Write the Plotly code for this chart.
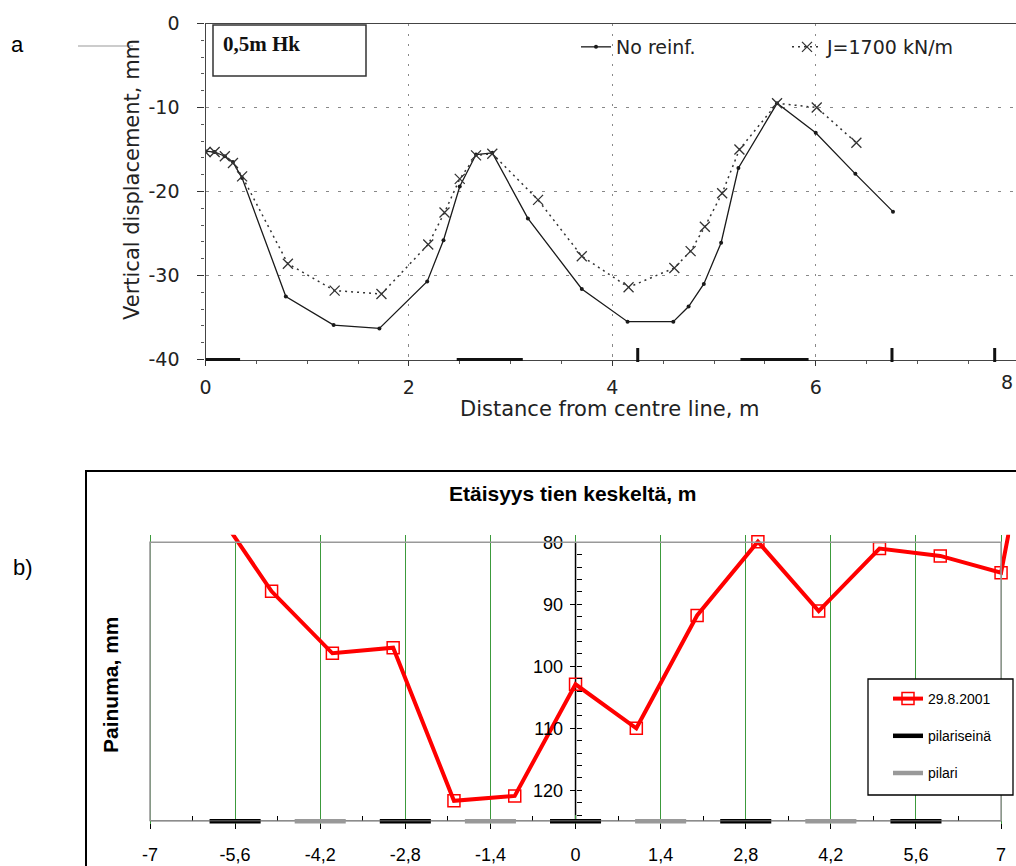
import plotly.graph_objects as go

W, H = 1016, 866

# ---------------- Panel a data ----------------
a_x_noreinf = [0.0, 0.09, 0.19, 0.27, 0.36, 0.79, 1.26, 1.71, 2.18, 2.34, 2.50, 2.66, 2.82,
               3.17, 3.70, 4.15, 4.60, 4.75, 4.90, 5.07, 5.24, 5.62, 6.00, 6.39, 6.76]
a_y_noreinf = [-15.2, -15.3, -15.8, -16.5, -18.4, -32.5, -35.9, -36.3, -30.7, -25.8, -19.4, -15.6, -15.4,
               -23.2, -31.6, -35.5, -35.5, -33.7, -31.0, -26.1, -17.2, -9.5, -13.0, -17.9, -22.4]
a_x_j1700 = [0.0, 0.09, 0.19, 0.27, 0.36, 0.81, 1.27, 1.73, 2.19, 2.35, 2.50, 2.66, 2.82,
             3.27, 3.70, 4.16, 4.61, 4.77, 4.91, 5.08, 5.25, 5.62, 6.01, 6.40]
a_y_j1700 = [-15.3, -15.3, -15.8, -16.6, -18.2, -28.6, -31.8, -32.2, -26.3, -22.5, -18.5, -15.7, -15.5,
             -21.0, -27.7, -31.4, -29.1, -27.1, -24.2, -20.2, -15.0, -9.5, -10.0, -14.2]
a_wall_start = [0.0, 2.47, 5.26]
a_wall_end = [0.34, 3.12, 5.93]
a_post_x = [4.25, 6.75, 7.76]
a_xticks = [0, 2, 4, 6]
a_xticklabels = ["0", "2", "4", "6"]
a_yticks = [0, -10, -20, -30, -40]
a_yticklabels = ["0", "-10", "-20", "-30", "-40"]

# ---------------- Panel b data ----------------
b_x = [-6, -5, -4, -3, -2, -1, 0, 1, 2, 3, 4, 5, 6, 7, 8]
b_y = [73.5, 87.9, 97.9, 97.0, 121.7, 120.9, 102.9, 110.0, 91.8, 79.9, 91.1, 81.0, 82.2, 84.9, 34.0]
b_wall_start = [-6.02, -3.22, -0.42, 2.38, 5.18]
b_wall_end = [-5.18, -2.38, 0.42, 3.22, 6.02]
b_post_start = [-4.62, -1.82, 0.98, 3.78]
b_post_end = [-3.78, -0.98, 1.82, 4.62]
b_xtickvals = [-7, -5.6, -4.2, -2.8, -1.4, 0, 1.4, 2.8, 4.2, 5.6, 7]
b_xticktext = ["-7", "-5,6", "-4,2", "-2,8", "-1,4", "0", "1,4", "2,8", "4,2", "5,6", "7"]
b_xminor = [-6.3, -4.9, -3.5, -2.1, -0.7, 0.7, 2.1, 3.5, 4.9, 6.3]
b_yticks = [80, 90, 100, 110, 120]


def segs(starts, ends, yval):
    xs, ys = [], []
    for s, e in zip(starts, ends):
        xs += [s, e, None]
        ys += [yval, yval, None]
    return xs, ys


def px(x):
    return x / W


def py(y):
    return 1 - y / H


FA = "DejaVu Sans"
FB = "Liberation Sans, Arial"

fig = go.Figure()

# ---- panel a traces ----
fig.add_trace(go.Scatter(x=a_x_noreinf, y=a_y_noreinf, mode="lines+markers", name="No reinf.",
                         line=dict(color="#1a1a1a", width=1.3),
                         marker=dict(symbol="circle", size=4, color="#1a1a1a"),
                         xaxis="x", yaxis="y", legend="legend"))
fig.add_trace(go.Scatter(x=a_x_j1700, y=a_y_j1700, mode="lines+markers", name="J=1700 kN/m",
                         line=dict(color="#333333", width=1.5, dash="2px,4px"),
                         marker=dict(symbol="x-thin-open", size=10, color="#333333",
                                     line=dict(color="#333333", width=1.3)),
                         xaxis="x", yaxis="y", legend="legend"))
wx, wy = segs(a_wall_start, a_wall_end, 0)
fig.add_trace(go.Scatter(x=wx, y=wy, mode="lines", line=dict(color="#111111", width=3),
                         showlegend=False, xaxis="x", yaxis="y3", hoverinfo="skip"))
fig.add_trace(go.Scatter(x=a_post_x, y=[4.5] * len(a_post_x), mode="markers",
                         marker=dict(symbol="line-ns-open", size=10, color="#111111",
                                     line=dict(color="#111111", width=3)),
                         showlegend=False, xaxis="x", yaxis="y3", hoverinfo="skip"))

# ---- panel b traces ----
fig.add_trace(go.Scatter(x=b_x, y=b_y, mode="lines+markers", name="29.8.2001",
                         line=dict(color="#ff0000", width=4),
                         marker=dict(symbol="square-open", size=12, color="#ff0000",
                                     line=dict(color="#ff0000", width=1.5)),
                         xaxis="x2", yaxis="y2", legend="legend2", legendgroup="r"))
bx, by = segs(b_wall_start, b_wall_end, 0)
fig.add_trace(go.Scatter(x=bx, y=by, mode="lines", name="pilariseinä",
                         line=dict(color="#000000", width=4.5),
                         xaxis="x2", yaxis="y4", legend="legend2", legendgroup="w"))
gx, gy = segs(b_post_start, b_post_end, 0)
fig.add_trace(go.Scatter(x=gx, y=gy, mode="lines", name="pilari",
                         line=dict(color="#999999", width=4.5),
                         xaxis="x2", yaxis="y4", legend="legend2", legendgroup="p"))

# ---- geometry ----
a_x0px, a_unit = 205.5, 101.7
a_top, a_bot = 23.5, 359.5
b_left_px, b_unit_x = 150.0, 60.79
b_top80, b_unit_y = 542.3, 6.2
b_xr = [-7.15, 7.15]
b_yr = [125, 78.8]
b_xdom = [px(b_left_px - 0.15 * b_unit_x), px(b_left_px + 14.15 * b_unit_x)]
b_ydom = [py(b_top80 + 45 * b_unit_y), py(b_top80 - 1.2 * b_unit_y)]
b_axis_px = b_top80 + 45 * b_unit_y

fig.update_layout(
    width=W, height=H, autosize=False,
    margin=dict(l=0, r=0, t=0, b=0, pad=0, autoexpand=False),
    paper_bgcolor="white", plot_bgcolor="rgba(0,0,0,0)",
    xaxis=dict(domain=[px(a_x0px), 1.0], range=[0, (W - a_x0px) / a_unit], anchor="y",
               tickmode="array", tickvals=a_xticks, ticktext=a_xticklabels,
               ticks="outside", ticklen=5, tickcolor="#333", tickwidth=1.2,
               minor=dict(dtick=0.5, tick0=0, ticks="outside", ticklen=3, tickcolor="#555", showgrid=False),
               showline=True, linecolor="#444", linewidth=1.3, mirror=True,
               showgrid=True, gridcolor="#888", gridwidth=1.3, griddash="2px,8px",
               zeroline=False, tickfont=dict(family=FA, size=19, color="#222"),
               ticklabelstandoff=6, automargin=False),
    yaxis=dict(domain=[py(a_bot), py(a_top)], range=[-40, 0], anchor="x",
               tickmode="array", tickvals=a_yticks, ticktext=a_yticklabels,
               ticks="outside", ticklen=7, tickcolor="#333", tickwidth=1.2,
               minor=dict(dtick=2, tick0=0, ticks="outside", ticklen=3, tickcolor="#555", showgrid=False),
               showline=True, linecolor="#444", linewidth=1.3,
               showgrid=True, gridcolor="#888", gridwidth=1.3, griddash="3px,9px",
               zeroline=False, tickfont=dict(family=FA, size=19, color="#222"),
               ticklabelstandoff=14, automargin=False),
    yaxis3=dict(domain=[py(a_bot + 3), py(a_bot - 14.5)], range=[-3, 14.5], anchor="x",
                visible=False, showgrid=False, zeroline=False),
    xaxis2=dict(domain=b_xdom, range=b_xr, anchor="y2",
                tickmode="array", tickvals=b_xtickvals, ticktext=b_xticktext,
                ticks="outside", ticklen=7, tickcolor="black", tickwidth=1.3,
                minor=dict(tickmode="array", tickvals=b_xminor, ticks="inside", ticklen=5,
                           tickcolor="black", showgrid=False),
                showline=False, showgrid=True, gridcolor="#3c9a3c", gridwidth=1,
                zeroline=False, tickfont=dict(family=FB, size=18, color="black"),
                ticklabelstandoff=10, automargin=False),
    yaxis2=dict(domain=b_ydom, range=b_yr, anchor="free", position=px(b_left_px + 7 * b_unit_x),
                tickvals=b_yticks, ticks="outside", ticklen=6, tickcolor="black", tickwidth=1.3,
                minor=dict(dtick=2, tick0=80, ticks="inside", ticklen=5, tickcolor="black", showgrid=False),
                showline=False, showgrid=False, zeroline=False,
                tickfont=dict(family=FB, size=18, color="black"), ticklabelstandoff=3,
                automargin=False),
    yaxis4=dict(domain=[py(b_axis_px + 2.7), py(b_axis_px - 6.3)], range=[-2.7, 6.3], anchor="x2",
                visible=False, showgrid=False, zeroline=False),
    legend=dict(orientation="h", x=px(576), y=py(47), xanchor="left", yanchor="middle",
                bgcolor="rgba(0,0,0,0)", font=dict(family=FA, size=19, color="#222"),
                entrywidth=166, entrywidthmode="pixels"),
    legend2=dict(x=px(888), y=py(683), xanchor="left", yanchor="top",
                 bgcolor="rgba(0,0,0,0)", borderwidth=0,
                 font=dict(family=FB, size=14, color="black"), tracegroupgap=16),
    showlegend=True,
)

shapes = [
    # panel a label box
    dict(type="rect", xref="paper", yref="paper", x0=px(213), x1=px(366), y0=py(76), y1=py(25),
         line=dict(color="#333", width=1.5)),
    # stray scan mark at top left
    dict(type="line", xref="paper", yref="paper", x0=px(78), x1=px(133), y0=py(46), y1=py(46),
         line=dict(color="#bbbbbb", width=1.5)),
    # panel b outer chart border
    dict(type="rect", xref="paper", yref="paper", x0=px(86), x1=1.02, y0=-0.02, y1=py(471),
         line=dict(color="black", width=2)),
    # panel b plot frame
    dict(type="rect", xref="x2", yref="y2", x0=-7, x1=7, y0=80, y1=125,
         line=dict(color="#999999", width=1.6), layer="above"),
    dict(type="line", xref="x2", yref="y2", x0=-7, x1=7, y0=125, y1=125,
         line=dict(color="black", width=1.5), layer="between"),
    dict(type="line", xref="x2", yref="y2", x0=0, x1=0, y0=80, y1=125,
         line=dict(color="black", width=1.5), layer="between"),
    # panel b legend box
    dict(type="rect", xref="paper", yref="paper", x0=px(868), x1=px(1013), y0=py(795), y1=py(679),
         line=dict(color="black", width=1.3), fillcolor="white", layer="above"),
]
fig.update_layout(shapes=shapes)

annotations = [
    dict(text="a", x=px(17), y=py(45), font=dict(family=FB, size=22, color="black")),
    dict(text="b)", x=px(23), y=py(567), font=dict(family=FB, size=22, color="black")),
    dict(text="Vertical displacement, mm", x=px(132), y=py(180), textangle=-90,
         font=dict(family=FA, size=21, color="#222")),
    dict(text="Distance from centre line, m", x=px(610), y=py(409),
         font=dict(family=FA, size=21, color="#222")),
    dict(text="8", x=px(1015), y=py(382), xanchor="right",
         font=dict(family=FA, size=19, color="#222")),
    dict(text="<b>0,5m Hk</b>", x=px(221), y=py(30), xanchor="left", yanchor="top",
         font=dict(family="Liberation Serif, Times New Roman", size=21, color="#111")),
    dict(text="<b>Etäisyys tien keskeltä, m</b>", x=px(572), y=py(493),
         font=dict(family=FB, size=21, color="black")),
    dict(text="<b>Painuma, mm</b>", x=px(110), y=py(685), textangle=-90,
         font=dict(family=FB, size=21, color="black")),
]
for a in annotations:
    a.setdefault("xanchor", "center")
    a.setdefault("yanchor", "middle")
    a["xref"] = "paper"
    a["yref"] = "paper"
    a["showarrow"] = False
fig.update_layout(annotations=annotations)

fig.write_html("out.html")
